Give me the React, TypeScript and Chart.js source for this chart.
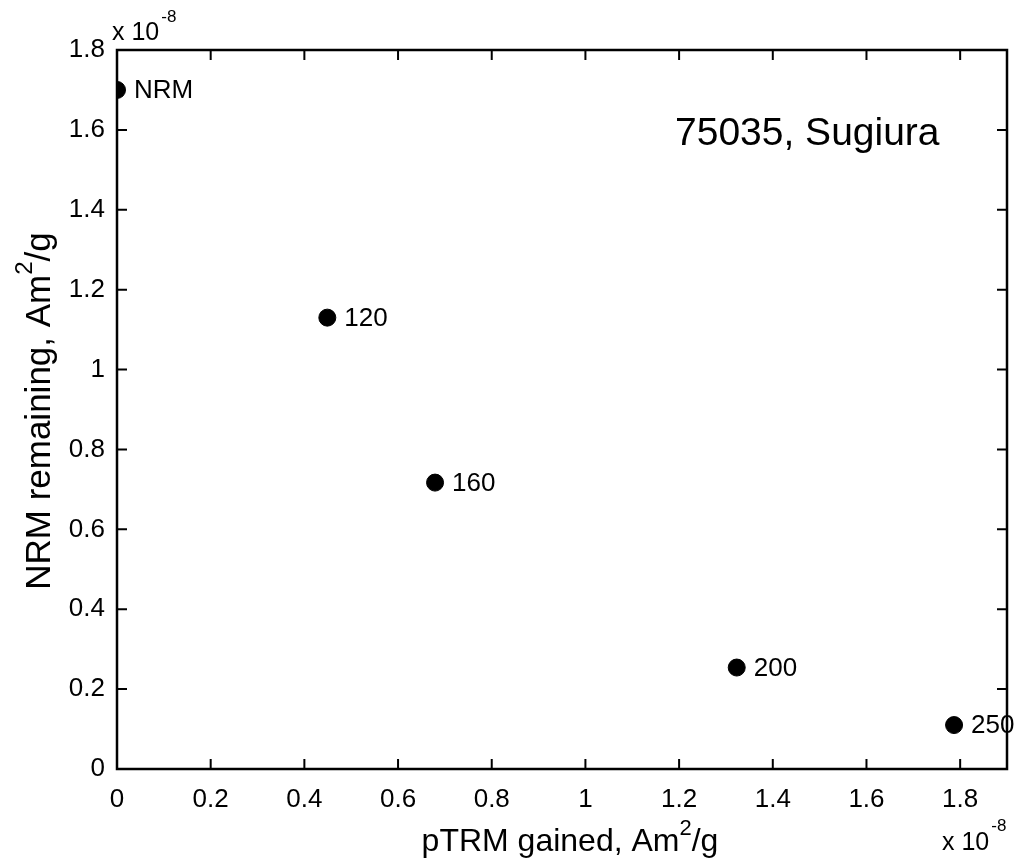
import React, { useEffect, useRef } from "react";
import { Chart, registerables } from "chart.js";

Chart.register(...registerables);

// Values in units of 1e-8 Am^2/g
const stepLabels = ["NRM", "120", "160", "200", "250"];
const ptrmGained = [0.0, 0.449, 0.679, 1.323, 1.787];
const nrmRemaining = [1.70, 1.13, 0.717, 0.254, 0.11];
const xTicks = [0, 0.2, 0.4, 0.6, 0.8, 1.0, 1.2, 1.4, 1.6, 1.8];
const yTicks = [0, 0.2, 0.4, 0.6, 0.8, 1.0, 1.2, 1.4, 1.6, 1.8];
const xRange = [0, 1.9];
const yRange = [0, 1.8];
const plotTitle = "75035, Sugiura";
const xTitle = ["pTRM gained, Am", "2", "/g"];
const yTitle = ["NRM remaining, Am", "2", "/g"];
const exponentText = ["x 10", "-8"];

const FONT = "'Liberation Sans', Arial, sans-serif";

const fmt = (v: number) => Number(v.toFixed(1)).toString();

function drawSuper(ctx: CanvasRenderingContext2D, parts: string[], size: number, supSize: number, cx: number, cy: number, align: "center" | "left") {
  ctx.font = `${size}px ${FONT}`;
  const w0 = ctx.measureText(parts[0]).width;
  const w2 = ctx.measureText(parts[2] || "").width;
  ctx.font = `${supSize}px ${FONT}`;
  const w1 = ctx.measureText(parts[1]).width;
  const total = w0 + w1 + w2;
  let x = align === "center" ? cx - total / 2 : cx;
  ctx.textAlign = "left";
  ctx.textBaseline = "middle";
  ctx.font = `${size}px ${FONT}`;
  ctx.fillText(parts[0], x, cy);
  x += w0;
  ctx.font = `${supSize}px ${FONT}`;
  ctx.fillText(parts[1], x, cy - size * 0.42);
  x += w1;
  if (parts[2]) {
    ctx.font = `${size}px ${FONT}`;
    ctx.fillText(parts[2], x, cy);
  }
}

const decorPlugin = {
  id: "decor",
  afterDatasetsDraw(chart: any) {
    const ctx: CanvasRenderingContext2D = chart.ctx;
    const { left, right, top, bottom } = chart.chartArea;
    const xs = chart.scales.x;
    const ys = chart.scales.y;
    ctx.save();
    ctx.strokeStyle = "#000";
    ctx.fillStyle = "#000";
    ctx.lineWidth = 2.5;
    ctx.strokeRect(left, top, right - left, bottom - top);
    const tl = 10;
    ctx.lineWidth = 2;
    ctx.beginPath();
    xTicks.forEach((v) => {
      const px = xs.getPixelForValue(v);
      ctx.moveTo(px, bottom);
      ctx.lineTo(px, bottom - tl);
      ctx.moveTo(px, top);
      ctx.lineTo(px, top + tl);
    });
    yTicks.forEach((v) => {
      const py = ys.getPixelForValue(v);
      ctx.moveTo(left, py);
      ctx.lineTo(left + tl, py);
      ctx.moveTo(right, py);
      ctx.lineTo(right - tl, py);
    });
    ctx.stroke();

    const meta = chart.getDatasetMeta(0);
    ctx.font = `26px ${FONT}`;
    ctx.textAlign = "left";
    ctx.textBaseline = "middle";
    meta.data.forEach((el: any, i: number) => {
      ctx.fillText(stepLabels[i], el.x + 17, el.y + 1);
    });

    ctx.font = `39px ${FONT}`;
    ctx.fillText(plotTitle, 675, 134);

    drawSuper(ctx, xTitle, 32, 22, 570, 842, "center");
    ctx.save();
    ctx.translate(40, 411);
    ctx.rotate(-Math.PI / 2);
    drawSuper(ctx, yTitle, 35, 24, 0, 0, "center");
    ctx.restore();

    ctx.font = `25px ${FONT}`;
    ctx.textAlign = "left";
    ctx.textBaseline = "middle";
    ctx.fillText(exponentText[0], 112, 33);
    let w = ctx.measureText(exponentText[0]).width;
    ctx.font = `17px ${FONT}`;
    ctx.fillText(exponentText[1], 112 + w + 2, 17);

    ctx.font = `25px ${FONT}`;
    ctx.fillText(exponentText[0], 942, 843);
    w = ctx.measureText(exponentText[0]).width;
    ctx.font = `17px ${FONT}`;
    ctx.fillText(exponentText[1], 942 + w + 2, 826);
    ctx.restore();
  },
};

export default function App() {
  const ref = useRef<HTMLCanvasElement | null>(null);
  useEffect(() => {
    if (!ref.current) return;
    const chart = new Chart(ref.current, {
      type: "scatter",
      data: {
        datasets: [
          {
            data: ptrmGained.map((x, i) => ({ x, y: nrmRemaining[i] })),
            backgroundColor: "#000",
            borderColor: "#000",
            pointRadius: 8.5,
            pointHoverRadius: 8.5,
          },
        ],
      },
      options: {
        responsive: false,
        animation: false,
        events: [],
        layout: { padding: { top: 50, right: 13, left: 0, bottom: 0 } },
        plugins: { legend: { display: false }, tooltip: { enabled: false } },
        scales: {
          x: {
            type: "linear",
            min: xRange[0],
            max: xRange[1],
            grid: { display: false, drawTicks: false },
            border: { display: false },
            afterBuildTicks: (s: any) => {
              s.ticks = xTicks.map((v) => ({ value: v }));
            },
            afterFit: (s: any) => {
              s.height = 96;
            },
            ticks: {
              color: "#000",
              font: { family: FONT, size: 26 },
              padding: 15,
              maxRotation: 0,
              autoSkip: false,
              callback: (v: any) => fmt(Number(v)),
            },
          },
          y: {
            type: "linear",
            min: yRange[0],
            max: yRange[1],
            grid: { display: false, drawTicks: false },
            border: { display: false },
            afterBuildTicks: (s: any) => {
              s.ticks = yTicks.map((v) => ({ value: v }));
            },
            afterFit: (s: any) => {
              s.width = 117;
            },
            ticks: {
              color: "#000",
              font: { family: FONT, size: 26 },
              padding: 12,
              autoSkip: false,
              callback: (v: any) => fmt(Number(v)),
            },
          },
        },
      },
      plugins: [decorPlugin],
    });
    return () => chart.destroy();
  }, []);
  return (
    <div style={{ position: "absolute", left: 0, top: 0, width: 1020, height: 865, background: "#fff" }}>
      <canvas ref={ref} width={1020} height={865} style={{ display: "block" }} />
    </div>
  );
}
